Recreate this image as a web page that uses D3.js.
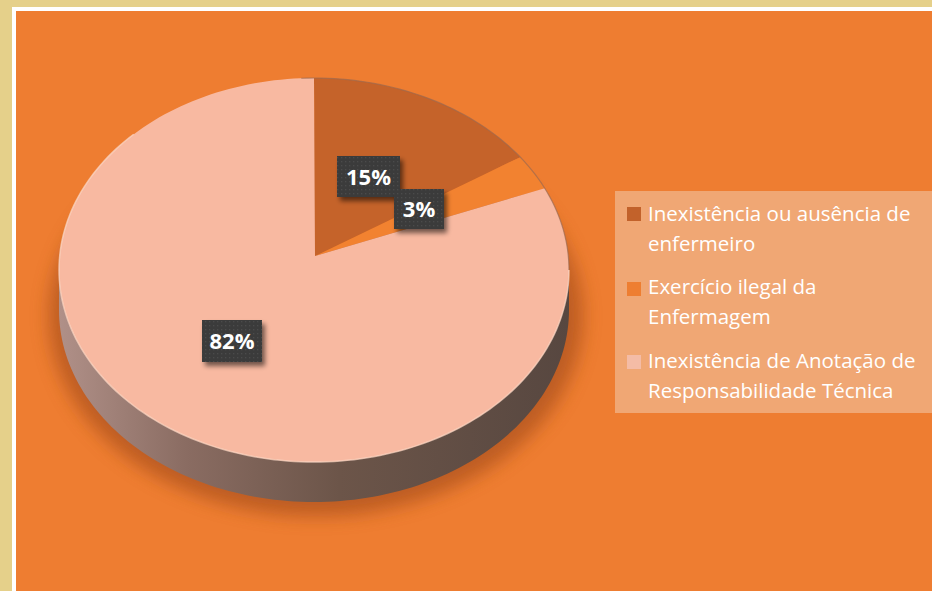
<!DOCTYPE html>
<html>
<head>
<meta charset="utf-8">
<script src="https://cdn.jsdelivr.net/npm/d3@7"></script>
<style>
  body { margin: 0; background: #e5d08a; }
  svg { display: block; }
</style>
</head>
<body>
<div id="chart"></div>
<script>
const categories = [
  'Inexistência ou ausência de enfermeiro',
  'Exercício ilegal da Enfermagem',
  'Inexistência de Anotação de Responsabilidade Técnica'
]
const values = [15, 3, 82]
const valueLabels = ['15%', '3%', '82%']
// legend lines (wrapped as in the picture)
const legendLines = [
  ['Inexistência ou ausência de', 'enfermeiro'],
  ['Exercício ilegal da', 'Enfermagem'],
  ['Inexistência de Anotação de', 'Responsabilidade Técnica']
]

const width = 932
const height = 591

const topColors = ['#c5632a', '#f28230', '#f8b9a1']
const swatchColors = ['#c2622b', '#ee7e31', '#f4bca6']

const svg = d3
  .select('#chart')
  .append('svg')
  .attr('width', width)
  .attr('height', height)

const defs = svg.append('defs')

// shadow under the pie
const blur = defs.append('filter').attr('id', 'blur')
  .attr('x', '-20%').attr('y', '-20%').attr('width', '140%').attr('height', '140%')
blur.append('feGaussianBlur').attr('stdDeviation', 9)

// drop shadow for the value boxes
const ds = defs.append('filter').attr('id', 'ds')
  .attr('x', '-30%').attr('y', '-30%').attr('width', '170%').attr('height', '180%')
ds.append('feGaussianBlur').attr('in', 'SourceAlpha').attr('stdDeviation', 2.5)
ds.append('feOffset').attr('dx', 3).attr('dy', 4).attr('result', 'off')
ds.append('feComponentTransfer').append('feFuncA').attr('type', 'linear').attr('slope', 0.55)
const merge = ds.append('feMerge')
merge.append('feMergeNode')
merge.append('feMergeNode').attr('in', 'SourceGraphic')

// dotted texture for the label boxes
const pat = defs.append('pattern').attr('id', 'dots')
  .attr('width', 4).attr('height', 4).attr('patternUnits', 'userSpaceOnUse')
pat.append('rect').attr('width', 4).attr('height', 4).attr('fill', '#3a3a3a')
pat.append('rect').attr('x', 1).attr('y', 1).attr('width', 1.4).attr('height', 1.4).attr('fill', '#4c4c4c')

// side gradient
const sideGrad = defs.append('linearGradient').attr('id', 'side')
  .attr('x1', '0%').attr('x2', '100%').attr('y1', '0%').attr('y2', '0%')
sideGrad.append('stop').attr('offset', '0%').attr('stop-color', '#b09088')
sideGrad.append('stop').attr('offset', '25%').attr('stop-color', '#8a6c62')
sideGrad.append('stop').attr('offset', '55%').attr('stop-color', '#6c5549')
sideGrad.append('stop').attr('offset', '100%').attr('stop-color', '#574740')

// frame
svg.append('rect').attr('width', width).attr('height', height).attr('fill', '#e5d08a')
svg.append('rect').attr('x', 12).attr('y', 7).attr('width', width).attr('height', height)
  .attr('fill', '#ffffff')
svg.append('rect').attr('x', 16).attr('y', 11).attr('width', width).attr('height', height)
  .attr('fill', '#ee7d31')

// pie geometry
const cx = 314
const cy = 270
const rx = 255
const ry = 192
const depth = 40
const apex = { x: 315, y: 256 }

const pie = d3.pie().sort(null).value(d => d)
const arcs = pie(values)

const pt = (t, dy = 0) => [cx + rx * Math.sin(t), cy - ry * Math.cos(t) + dy]

function edge(t0, t1, dy = 0) {
  const n = Math.max(2, Math.ceil((Math.abs(t1 - t0) / (2 * Math.PI)) * 240))
  return d3.range(n + 1).map(i => pt(t0 + ((t1 - t0) * i) / n, dy))
}

const pieG = svg.append('g')

// soft shadow
pieG
  .append('ellipse')
  .attr('cx', cx + 2)
  .attr('cy', cy + depth + 6)
  .attr('rx', rx + 12)
  .attr('ry', ry + 8)
  .attr('fill', '#a94f1a')
  .attr('opacity', 0.7)
  .attr('filter', 'url(#blur)')

// side of the visible (front) part
const tA = Math.PI / 2
const tB = (3 * Math.PI) / 2
const sidePts = edge(tA, tB).concat(edge(tB, tA, depth))
pieG
  .append('path')
  .attr('d', d3.line()(sidePts) + 'Z')
  .attr('fill', 'url(#side)')

// top faces
pieG
  .selectAll('.slice')
  .data(arcs)
  .enter()
  .append('path')
  .attr('class', 'slice')
  .attr('d', d => d3.line()([[apex.x, apex.y]].concat(edge(d.startAngle, d.endAngle))) + 'Z')
  .attr('fill', (d, i) => topColors[i])

// thin grey rim along the back edge
pieG
  .append('path')
  .attr('d', d3.line()(edge(-0.05, Math.PI * 0.5)))
  .attr('fill', 'none')
  .attr('stroke', '#9c6a50')
  .attr('stroke-width', 1.2)
  .attr('opacity', 0.7)

// light rim on the front edge
pieG
  .append('path')
  .attr('d', d3.line()(edge(Math.PI * 0.5, Math.PI * 1.75)))
  .attr('fill', 'none')
  .attr('stroke', '#fbd8c8')
  .attr('stroke-width', 1.5)
  .attr('opacity', 0.7)

// value boxes
const boxes = [
  { x: 337, y: 156, w: 63, h: 41 },
  { x: 394, y: 189, w: 50, h: 40 },
  { x: 202, y: 320, w: 60, h: 42 }
]

const labelG = svg
  .selectAll('.vlabel')
  .data(valueLabels)
  .enter()
  .append('g')
  .attr('class', 'vlabel')

labelG
  .append('rect')
  .attr('x', (d, i) => boxes[i].x)
  .attr('y', (d, i) => boxes[i].y)
  .attr('width', (d, i) => boxes[i].w)
  .attr('height', (d, i) => boxes[i].h)
  .attr('fill', 'url(#dots)')
  .attr('filter', 'url(#ds)')

labelG
  .append('text')
  .attr('x', (d, i) => boxes[i].x + boxes[i].w / 2)
  .attr('y', (d, i) => boxes[i].y + boxes[i].h / 2 + 8)
  .attr('text-anchor', 'middle')
  .attr('font-family', 'Open Sans, sans-serif')
  .attr('font-weight', 'bold')
  .attr('font-size', 22)
  .attr('fill', '#ffffff')
  .text(d => d)

// legend
svg
  .append('rect')
  .attr('x', 615)
  .attr('y', 191)
  .attr('width', 330)
  .attr('height', 222)
  .attr('fill', '#f0a774')

const swatchY = [207, 282, 355]
const textY = [221, 294, 368]

const legend = svg
  .selectAll('.legend-entry')
  .data(categories)
  .enter()
  .append('g')
  .attr('class', 'legend-entry')

legend
  .append('rect')
  .attr('x', 627)
  .attr('y', (d, i) => swatchY[i])
  .attr('width', 14)
  .attr('height', 14)
  .attr('fill', (d, i) => swatchColors[i])

legend
  .append('text')
  .attr('y', (d, i) => textY[i])
  .attr('font-family', 'Open Sans, sans-serif')
  .attr('font-size', 20.5)
  .attr('fill', '#ffffff')
  .each(function(d, i) {
    const t = d3.select(this)
    legendLines[i].forEach((line, j) => {
      t.append('tspan').attr('x', 648).attr('dy', j === 0 ? 0 : 30).text(line)
    })
  })
</script>
</body>
</html>
